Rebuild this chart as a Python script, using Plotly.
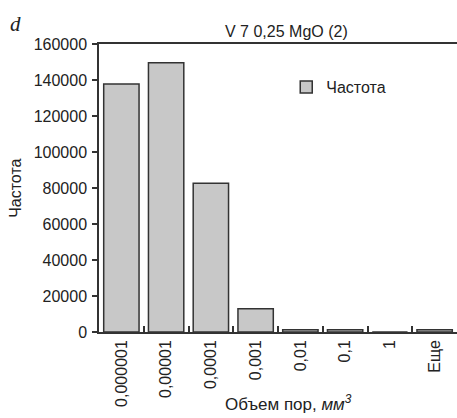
import plotly.graph_objects as go

categories = ["0,000001", "0,00001", "0,0001", "0,001", "0,01", "0,1", "1", "Еще"]
frequency = [137800, 149600, 82600, 12900, 1300, 1300, 0, 1300]
y_ticks = [0, 20000, 40000, 60000, 80000, 100000, 120000, 140000, 160000]
y_tick_text = [str(v) for v in y_ticks]

FONT = "Liberation Sans, Arial, sans-serif"
LINE = "#333333"

fig = go.Figure()
fig.add_trace(go.Bar(
    x=categories, y=frequency, name="Частота",
    marker=dict(color="#c8c8c8", line=dict(color=LINE, width=1.5)),
))

fig.update_layout(
    width=457, height=418,
    margin=dict(l=99, r=0, t=44, b=86),
    paper_bgcolor="white", plot_bgcolor="white",
    font=dict(family=FONT, size=16, color="#222222"),
    bargap=0.21,
    showlegend=True,
    legend=dict(x=0.523, y=0.85, xanchor="left", yanchor="middle",
                bgcolor="rgba(0,0,0,0)", font=dict(size=16)),
    xaxis=dict(
        type="category", tickangle=-90, showline=True, linecolor=LINE, linewidth=1.5,
        mirror=True, ticks="inside", tickson="boundaries", ticklen=6,
        tickcolor=LINE, tickwidth=1.5, showgrid=False, zeroline=False,
    ),
    yaxis=dict(
        range=[0, 160000], tickvals=y_ticks, ticktext=y_tick_text, ticks="outside",
        ticklen=5, tickcolor=LINE, tickwidth=1.5, showline=True, linecolor=LINE,
        linewidth=1.5, showgrid=False, zeroline=False, ticklabelstandoff=2,
    ),
    annotations=[
        dict(text="V 7 0,25 MgO (2)", xref="paper", yref="paper", x=0.525, y=1.0,
             xanchor="center", yanchor="bottom", yshift=2, showarrow=False,
             font=dict(size=16)),
        dict(text="<i>d</i>", xref="paper", yref="paper", x=-0.232, y=1.07,
             xanchor="center", yanchor="middle", showarrow=False,
             font=dict(family="Liberation Serif, Times New Roman, serif", size=21)),
        dict(text="Частота", xref="paper", yref="paper", x=-0.235, y=0.5,
             xanchor="center", yanchor="middle", textangle=-90, showarrow=False,
             font=dict(size=16)),
        dict(text="Объем пор, <i>мм<sup>3</sup></i>", xref="paper", yref="paper",
             x=0.528, y=-0.29, xanchor="center", yanchor="bottom", showarrow=False,
             font=dict(size=17)),
    ],
)

fig.write_html("out.html")
